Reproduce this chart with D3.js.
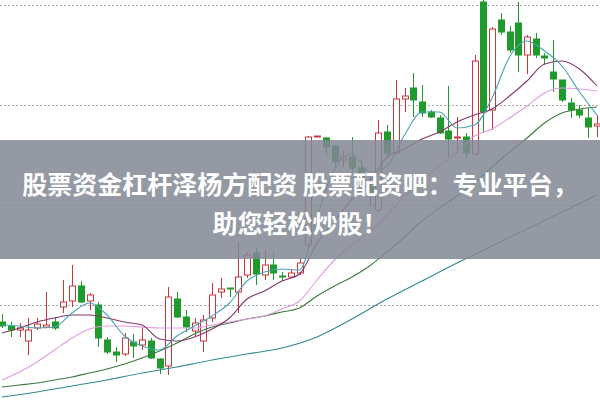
<!DOCTYPE html>
<html><head><meta charset="utf-8">
<script src="https://cdn.jsdelivr.net/npm/d3@7/dist/d3.min.js"></script>
<style>html,body{margin:0;padding:0;background:#fff;overflow:hidden}</style>
</head><body><div id="chart"></div>
<script>
const opens = [8.83,8.79,8.75,8.64,8.77,8.78,8.83,8.98,9.04,9.19, 9.04,9.00,8.65,8.53,8.51,8.63,8.60,8.64,8.46,8.39, 9.06,8.88,8.74,8.64,8.87,9.13,9.17,9.13,9.30,9.52, 9.30,9.40,9.29,9.28,9.32,9.60,10.68,10.67,10.59,10.45, 10.48,10.37,10.23,9.95,10.73,10.52,11.06,11.17,11.03,10.93, 10.87,10.74,10.67,10.68,10.51,12.03,10.95,11.85,11.73,11.82, 11.50,11.66,11.49,11.33,11.25,11.02,10.95,10.87,10.79];
const closes = [8.79,8.75,8.77,8.75,8.81,8.80,8.77,9.03,9.19,9.03, 9.10,8.67,8.53,8.50,8.67,8.59,8.65,8.47,8.37,9.08, 8.88,8.78,8.82,8.85,9.10,9.16,9.16,9.28,9.50,9.31, 9.40,9.32,9.28,9.32,9.42,10.68,10.69,10.58,10.43,10.48, 10.37,10.25,10.10,10.72,10.52,11.06,11.09,11.05,10.92,10.88, 10.72,10.66,10.68,10.52,11.44,10.93,11.76,11.73,11.55,11.50, 11.68,11.50,11.47,11.26,11.05,10.95,10.90,10.78,10.81];
const highs = [8.91,8.83,8.82,8.87,8.87,9.13,8.88,9.25,9.40,9.24, 9.12,9.03,8.68,8.58,8.72,8.71,8.78,8.67,8.47,9.18, 9.13,8.95,8.87,8.90,9.22,9.27,9.17,9.63,9.53,9.57, 9.55,9.53,9.33,9.35,9.47,10.69,10.69,10.68,10.60,10.55, 10.68,10.45,10.30,10.85,10.80,11.25,11.17,11.32,11.20,10.95, 10.90,11.19,10.88,10.72,11.50,12.05,11.78,11.92,11.79,12.03, 11.70,11.72,11.52,11.65,11.25,11.07,11.00,10.97,10.90];
const lows = [8.77,8.68,8.68,8.50,8.75,8.77,8.75,8.92,8.98,9.02, 8.95,8.58,8.51,8.43,8.49,8.47,8.55,8.46,8.31,8.30, 8.87,8.73,8.69,8.53,8.83,9.07,9.08,8.92,9.27,9.20, 9.25,9.25,9.24,9.27,9.30,9.58,10.68,10.50,10.38,10.38, 10.33,10.20,10.00,9.93,10.48,10.50,10.93,10.88,10.88,10.87, 10.71,10.48,10.52,10.47,10.50,10.72,10.75,11.70,11.52,11.33, 11.31,11.47,11.40,11.13,11.03,10.87,10.87,10.67,10.68];

// moving averages read at every 2nd candle (MA60 at every 4th)
const ma5 = [8.80,8.79,8.77,8.78,8.92,9.02,8.90,8.69,8.59,8.55, 8.69,8.79,8.89,9.02,9.24,9.33,9.36,9.35,9.88,10.36, 10.51,10.33,10.39,10.70,10.93,10.93,10.77,10.80,11.07,11.48, 11.64,11.54,11.39,11.13,10.90];
const ma10 = [8.72,8.77,8.83,8.87,8.90,8.90,8.87,8.83,8.80,8.66, 8.64,8.68,8.76,8.87,9.06,9.14,9.24,9.31,9.62,9.84, 10.06,10.23,10.48,10.56,10.66,10.73,10.83,10.90,10.96,11.09, 11.24,11.41,11.44,11.36,11.19];
const ma20 = [8.25,8.33,8.43,8.55,8.67,8.76,8.79,8.79,8.78,8.77, 8.77,8.77,8.80,8.83,8.86,8.89,8.96,9.04,9.25,9.45, 9.60,9.73,9.90,10.09,10.25,10.39,10.53,10.69,10.76,10.87, 10.99,11.12,11.17,11.16,11.14];
const ma30 = [8.18,8.20,8.22,8.25,8.28,8.32,8.36,8.41,8.47,8.54, 8.62,8.71,8.78,8.82,8.86,8.89,8.93,8.97,9.09,9.19, 9.28,9.39,9.53,9.68,9.84,9.97,10.09,10.22,10.38,10.53, 10.67,10.82,10.92,10.96,10.98];
const ma60 = [8.08,8.13,8.19,8.25,8.32,8.38,8.45,8.51,8.57,8.68,8.86,9.06,9.24,9.42,9.59,9.76,9.93,10.10];
const gridValues = [9, 10, 11, 12];
const bannerLines = ["股票资金杠杆泽杨方配资 股票配资吧：专业平台，", "助您轻松炒股！"];

const W = 600, H = 401;
const svg = d3.select("#chart").append("svg").attr("width", W).attr("height", H)
  .style("display","block");

const x = d3.scaleLinear().domain([0, opens.length - 1]).range([2, 597]);
const y = d3.scaleLinear().domain([8.04, 12.05]).range([401, 0]);

// grid
svg.append("g").selectAll("line").data(gridValues).join("line")
  .attr("x1", 0).attr("x2", W)
  .attr("y1", d => Math.round(y(d)) + 0.5).attr("y2", d => Math.round(y(d)) + 0.5)
  .attr("stroke", "#a8a8a8").attr("stroke-width", 1).attr("stroke-dasharray", "2,2");

const RED = "#c6363c", GREEN = "#1f9a2c";
const candles = opens.map((o, i) => ({i, o, c: closes[i], h: highs[i], l: lows[i]}));
const g = svg.append("g");
g.selectAll("line.wick").data(candles).join("line")
  .attr("x1", d => Math.round(x(d.i)) + 0.5).attr("x2", d => Math.round(x(d.i)) + 0.5)
  .attr("y1", d => y(d.h)).attr("y2", d => y(d.l))
  .attr("stroke", d => d.c >= d.o ? RED : GREEN).attr("stroke-width", 1);
g.selectAll("rect.body").data(candles).join("rect")
  .attr("x", d => Math.round(x(d.i)) - 2.5).attr("width", 6)
  .attr("y", d => y(Math.max(d.o, d.c)))
  .attr("height", d => Math.max(1, Math.abs(y(d.o) - y(d.c))))
  .attr("fill", d => d.c >= d.o ? "#fff" : GREEN)
  .attr("stroke", d => d.c >= d.o ? RED : GREEN).attr("stroke-width", 1);

// moving averages
const idx2 = d3.range(0, opens.length, 2), idx4 = d3.range(0, opens.length, 4);
const line = d3.line().x(d => x(d[0])).y(d => y(d[1])).curve(d3.curveMonotoneX);
const series = [
  {vals: ma60, idx: idx4, color: "#2f8a92"},
  {vals: ma30, idx: idx2, color: "#3b7a3e"},
  {vals: ma20, idx: idx2, color: "#e39be3"},
  {vals: ma10, idx: idx2, color: "#84376f"},
  {vals: ma5, idx: idx2, color: "#4aa5b4"}
];
svg.append("g").selectAll("path").data(series).join("path")
  .attr("d", s => line(s.vals.map((v, k) => [s.idx[k], v])))
  .attr("fill", "none").attr("stroke", s => s.color).attr("stroke-width", 1.1);

// banner
svg.append("rect").attr("x", 0).attr("y", 140).attr("width", W).attr("height", 119)
  .attr("fill", "rgb(130,136,148)").attr("fill-opacity", 0.86);
svg.append("g").selectAll("text").data(bannerLines).join("text")
  .attr("x", W / 2).attr("y", (d, k) => 183 + k * 39)
  .attr("text-anchor", "middle").attr("dominant-baseline", "central")
  .attr("fill", "#fff").attr("font-size", 25).attr("font-weight", 700)
  .attr("font-family", "'Noto Sans CJK SC', 'Noto Sans', sans-serif")
  .text(d => d);
</script></body></html>
